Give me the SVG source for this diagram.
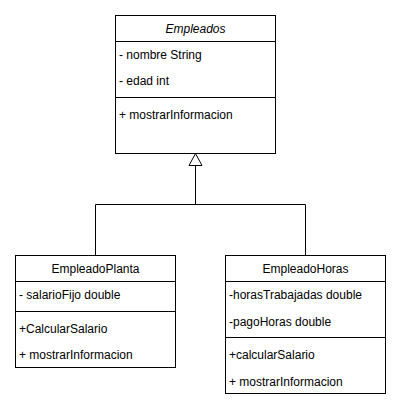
<svg xmlns="http://www.w3.org/2000/svg" width="401" height="412" viewBox="0 0 401 412">
<style>
.box{fill:#fff;stroke:#000;stroke-width:1}
.sep{stroke:#000;stroke-width:1;fill:none}
.t{font-family:"Liberation Sans",Arial,sans-serif;font-size:12px;fill:#000}
.c{text-anchor:middle}
.conn{fill:none;stroke:#000;stroke-width:1}
</style>
<rect width="401" height="412" fill="#fff"/>
<g id="connectors">
<path class="conn" d="M95.5 255 V204.5 H305.5 V255"/>
<path class="conn" d="M195.5 204.5 V165.5"/>
<path d="M195.5 153.5 L202 165.5 L189 165.5 Z" fill="#fff" stroke="#000" stroke-width="1"/>
</g>
<g id="Empleados">
<rect class="box" x="115.5" y="15.5" width="160" height="138"/>
<line class="sep" x1="115.5" y1="41.5" x2="275.5" y2="41.5"/>
<line class="sep" x1="115.5" y1="97.5" x2="275.5" y2="97.5"/>
<text class="t c" x="195.5" y="33" font-style="italic">Empleados</text>
<text class="t" x="119" y="58.5">- nombre String</text>
<text class="t" x="119" y="84.5">- edad int</text>
<text class="t" x="119" y="119">+ mostrarInformacion</text>
</g>
<g id="EmpleadoPlanta">
<rect class="box" x="15.5" y="255.5" width="160" height="112"/>
<line class="sep" x1="15.5" y1="281.5" x2="175.5" y2="281.5"/>
<line class="sep" x1="15.5" y1="311.5" x2="175.5" y2="311.5"/>
<text class="t c" x="95.5" y="273">EmpleadoPlanta</text>
<text class="t" x="19" y="299">- salarioFijo double</text>
<text class="t" x="19" y="333">+CalcularSalario</text>
<text class="t" x="19" y="359">+ mostrarInformacion</text>
</g>
<g id="EmpleadoHoras">
<rect class="box" x="225.5" y="255.5" width="160" height="138"/>
<line class="sep" x1="225.5" y1="281.5" x2="385.5" y2="281.5"/>
<line class="sep" x1="225.5" y1="337.5" x2="385.5" y2="337.5"/>
<text class="t c" x="305.5" y="273">EmpleadoHoras</text>
<text class="t" x="229" y="299">-horasTrabajadas double</text>
<text class="t" x="229" y="325.5">-pagoHoras double</text>
<text class="t" x="229" y="359">+calcularSalario</text>
<text class="t" x="229" y="385.5">+ mostrarInformacion</text>
</g>
</svg>
